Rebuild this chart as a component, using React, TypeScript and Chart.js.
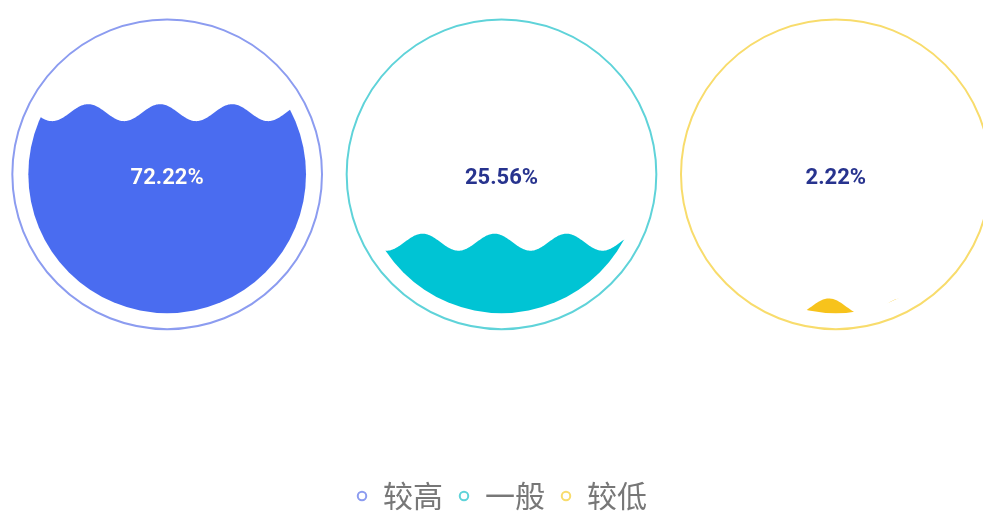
import { useEffect, useRef } from "react";
import { Chart, registerables } from "chart.js";

Chart.register(...registerables);

// ---- data ----
const categories = ["较高", "一般", "较低"];
const values = [0.7222, 0.2556, 0.0222];
const fillColors = ["#4a6cf0", "#00c4d4", "#f7c31c"];
const ringColors = ["#8c9cf0", "#5fd3d9", "#f8dc6c"];

// ---- styling constants ----
const TEXT_OUTSIDE = "#27338e";
const TEXT_INSIDE = "#ffffff";
const RING_GAP = 16;
const WAVE_AMPLITUDE = 8.5;
const WAVE_LENGTH = 72;
const CREST_OFFSET = -7;
const TEXT_DY = 4.5;
const Y_MIN = -0.5504;
const Y_MAX = 1;

const liquidPlugin = {
  id: "liquidFill",
  afterDatasetsDraw(chart: any) {
    const ctx: CanvasRenderingContext2D = chart.ctx;
    const meta = chart.getDatasetMeta(0);
    const yScale = chart.scales.y;
    const top = yScale.getPixelForValue(1);
    const bottom = yScale.getPixelForValue(0);
    const R = (bottom - top) / 2;
    const cy = (top + bottom) / 2;

    meta.data.forEach((pt: any, i: number) => {
      const cx = pt.x;
      const level = pt.y;

      // outer ring
      ctx.save();
      ctx.beginPath();
      ctx.arc(cx, cy, R + RING_GAP, 0, Math.PI * 2);
      ctx.lineWidth = 2;
      ctx.strokeStyle = ringColors[i];
      ctx.stroke();
      ctx.restore();

      // wave path
      const wave = new Path2D();
      const x0 = cx - R - 2;
      const x1 = cx + R + 2;
      wave.moveTo(x0, bottom + 4);
      for (let x = x0; x <= x1; x += 1) {
        const yy =
          level -
          WAVE_AMPLITUDE *
            Math.cos((2 * Math.PI * (x - (cx + CREST_OFFSET))) / WAVE_LENGTH);
        wave.lineTo(x, yy);
      }
      wave.lineTo(x1, bottom + 4);
      wave.closePath();

      const circle = new Path2D();
      circle.arc(cx, cy, R, 0, Math.PI * 2);

      ctx.save();
      ctx.clip(circle);
      ctx.fillStyle = fillColors[i];
      ctx.fill(wave);
      ctx.restore();

      // label
      const text = (values[i] * 100).toFixed(2) + "%";
      ctx.save();
      ctx.font = "bold 22px Roboto";
      ctx.textAlign = "center";
      ctx.textBaseline = "middle";
      ctx.fillStyle = TEXT_OUTSIDE;
      ctx.fillText(text, cx, cy + TEXT_DY);
      ctx.clip(circle);
      ctx.clip(wave);
      ctx.fillStyle = TEXT_INSIDE;
      ctx.fillText(text, cx, cy + TEXT_DY);
      ctx.restore();
    });
  },
};

export default function App() {
  const ref = useRef<HTMLCanvasElement>(null);

  useEffect(() => {
    if (!ref.current) return;
    const chart = new Chart(ref.current, {
      type: "scatter",
      data: {
        labels: categories,
        datasets: [
          {
            label: "liquid",
            data: values.map((v, i) => ({ x: i, y: v })),
            pointRadius: 0,
            pointHoverRadius: 0,
            showLine: false,
          },
        ],
      },
      options: {
        responsive: false,
        animation: false,
        events: [],
        layout: { padding: { top: 35.5, left: 0, right: 0, bottom: 0 } },
        scales: {
          x: { type: "linear", min: -0.5, max: 2.5, display: false },
          y: { type: "linear", min: Y_MIN, max: Y_MAX, display: false },
        },
        plugins: {
          tooltip: { enabled: false },
          legend: {
            display: true,
            position: "bottom",
            labels: {
              usePointStyle: true,
              boxWidth: 12,
              boxHeight: 6,
              padding: 15,
              color: "#777777",
              font: { size: 30, family: "'Noto Sans CJK SC', sans-serif" },
              generateLabels: () =>
                categories.map((c, i) => ({
                  text: c,
                  fillStyle: "#ffffff",
                  strokeStyle: ringColors[i],
                  lineWidth: 2,
                  pointStyle: "circle",
                  fontColor: "#777777",
                  hidden: false,
                  datasetIndex: 0,
                  index: i,
                })),
            },
          },
        },
      },
      plugins: [liquidPlugin],
    } as any);
    return () => chart.destroy();
  }, []);

  return (
    <div
      style={{
        position: "absolute",
        left: 0,
        top: 0,
        width: 983,
        height: 511,
        overflow: "hidden",
        background: "#ffffff",
      }}
    >
      <canvas ref={ref} width={1003} height={521} style={{ display: "block" }} />
    </div>
  );
}
